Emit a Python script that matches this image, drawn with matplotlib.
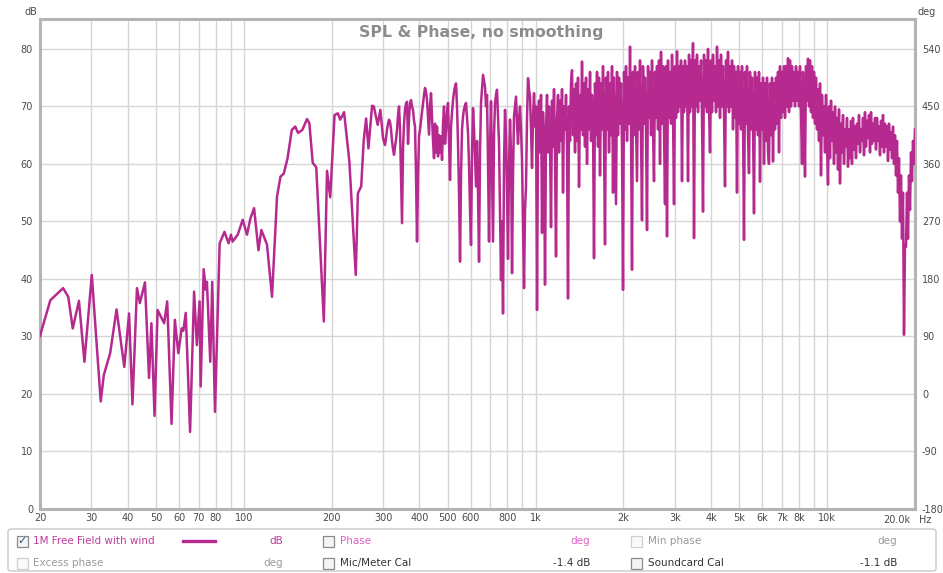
import numpy as np
import matplotlib
matplotlib.use('Agg')
import matplotlib.pyplot as plt
from matplotlib.patches import Rectangle, FancyBboxPatch
from matplotlib.lines import Line2D

# ---------------- data ----------------
# sparse part: 20 Hz .. ~295 Hz
low_freq = [20, 21.7, 24.0, 25.0, 25.9, 27.2, 28.4, 30.1, 32.3, 33.1, 34.8, 36.6, 38.9, 40.4,
            41.5, 43.0, 44.0, 45.8, 47.3, 48.2, 49.4, 50.6, 53.3, 54.6, 56.5, 58.0, 59.6, 61.2,
            62.0, 63.2, 65.4, 67.5, 69.0, 70.5, 71.1, 72.8, 74.1, 74.7, 76.7, 77.9, 79.6, 82.6,
            85.8, 88.6, 90.3, 91.5, 95.3, 99.1, 102.5, 105.4, 108.4, 112.2, 114.8, 118.9, 120,
            124.9, 129.9, 133.5, 137, 141.2, 146, 150, 153.4, 158.6, 164.6, 167.7, 172.2, 177.1,
            188, 192.8, 197.7, 204.6, 210, 214, 220.6, 227.9, 230, 241.9, 246, 252.5, 257.7,
            262.5, 267.3, 275.2, 279, 287.6, 293.7]
low_db = [30.1, 36.3, 38.4, 36.9, 31.4, 36.2, 25.6, 40.7, 18.7, 23.3, 27.1, 34.7, 24.7, 34.0,
          18.2, 38.4, 35.8, 39.4, 22.8, 32.3, 16.2, 34.6, 32.3, 36.1, 14.8, 32.9, 27.1, 31.4,
          31.0, 34.1, 13.4, 37.8, 28.5, 36.1, 21.3, 41.7, 38.1, 39.5, 25.6, 39.5, 16.9, 46.2,
          48.2, 46.2, 47.7, 46.5, 47.7, 50.3, 47.7, 50.6, 52.3, 45.0, 48.5, 46.5, 46.0,
          36.9, 54.3, 57.8, 58.3, 61.0, 65.9, 66.5, 65.4, 65.9, 67.8, 67.1, 60.2, 59.4,
          32.6, 58.8, 54.2, 68.5, 68.8, 67.7, 69.0, 62.4, 60.4, 40.7, 54.9, 56.1, 64.2,
          67.9, 62.7, 70.1, 70.0, 66.8, 69.4]

# dense part: 300 Hz .. 20 kHz on the log-spaced measurement grid
dense_f_start = 300
dense_f_end = 20000
dense_db = [
    # 300 Hz .. 1 kHz
    64.5, 63.8, 63.3, 64.5, 66, 67, 67.7, 67.3, 66, 64,
    62.5, 61.6, 63, 64.2, 66, 68.5, 70, 66, 58, 49.7,
    62.7, 67, 69.5, 70.5, 70.8, 63.5, 68, 70.5, 71.1, 70,
    69.4, 67.5, 66.5, 58, 46.5, 58, 64.8, 66, 67.5, 68.9,
    70.5, 72, 73.2, 72.5, 71.1, 68, 65.1, 70, 72.3, 68,
    64, 61, 67, 62, 66.5, 61.3, 65, 62, 64.8, 60.7,
    67, 70, 63.5, 66, 69, 70.6, 64, 57.2, 66.5, 69,
    71.1, 72.5, 73.5, 74, 70, 63.5, 55, 43, 58, 66,
    68.3, 69.5, 70.2, 70.6, 68, 65.4, 60, 52, 45.9, 62,
    69.7, 66, 61, 56.1, 64, 55, 43, 62, 70.6, 73,
    75.5, 74.5, 73.4, 70, 72, 60, 46.5, 63, 70.9, 58,
    46.5, 65, 70.6, 72, 72.9, 68, 63.5, 52, 39.8, 50,
    34.0, 60, 69.4, 65, 55, 43.5, 60, 67.7, 62, 41,
    58, 68.3, 70, 71.7, 67, 63.5, 68, 70, 66, 60.7,
    50, 38.4, 52, 56.1, 68, 74.9, 73, 71.7, 66, 59.3,
    68, 72.3, 66.5,
    # 1 kHz .. 20 kHz
    70, 34.6, 66, 71, 62, 72, 48, 69, 63, 39,
    66, 72, 62, 70, 64, 49, 71, 63, 73, 61,
    43.9, 68, 72, 62, 71, 64, 73, 55, 70, 66,
    72, 63, 36.6, 70, 64, 74, 76.3, 65, 73, 62,
    74, 64, 75, 56, 72, 66, 77.8, 65, 74, 63,
    75, 60, 73, 66, 76, 64, 72, 67, 43.6, 74,
    65, 76, 63, 75, 58, 74, 66, 77, 64, 46,
    75, 66, 76, 62, 74, 65, 77, 55, 75, 64,
    53, 76, 65, 75, 67, 74, 63, 38.1, 76, 66,
    77, 64, 75, 67, 80.4, 66, 41.6, 76, 65, 77,
    67, 57, 76, 66, 78, 65, 50.2, 77, 67, 75,
    66, 48.5, 77, 68, 76, 65, 78, 66, 57, 76,
    68, 77, 66, 78, 60, 79.5, 67, 77, 66, 53,
    77, 47.4, 78, 68, 76, 67, 79, 69, 53, 77,
    68, 79.6, 69, 77, 70, 78, 57, 77, 69, 78,
    70, 77, 57, 79, 69, 78, 70, 81, 47.1, 78,
    70, 79, 69, 77, 71, 78, 68, 51.7, 79, 70,
    78, 69, 80, 70, 62, 78, 69, 79, 71, 77,
    69, 80.4, 70, 78, 68, 79, 70, 77, 69, 56.1,
    78, 70, 79.5, 69, 77, 70, 78, 66, 77, 68,
    76, 55, 77, 67, 76, 66, 77, 68, 46.8, 76,
    67, 77, 65, 58.4, 76, 66, 75, 67, 51.4, 76,
    66, 75, 65, 76, 56.9, 74, 66, 75, 60, 74,
    64, 75, 62, 60, 74, 65, 75, 60.4, 74, 66,
    75, 67, 76, 62, 77, 68, 76, 69, 77, 68,
    77, 70, 78.4, 69, 78, 70, 77, 71, 76, 70,
    77, 71, 76, 70, 77, 69, 60, 76, 70, 57.8,
    77, 71, 78.3, 70, 78, 69, 77, 68, 76, 67,
    75, 66, 73, 64, 74, 58, 72, 65, 70, 62,
    72, 63, 56.4, 70, 61, 71, 64, 69, 60, 70,
    62, 68, 59, 69.5, 56.6, 67, 62, 68.5, 60, 66,
    63, 68, 59.5, 66, 61, 67.5, 60, 68, 62.5, 66.5,
    61, 67, 63.5, 68.5, 62, 66, 64, 68, 61.5, 69,
    63, 67.5, 64.5, 68.5, 62, 69, 63.5, 67, 64, 68,
    62.5, 68, 64, 66.5, 61.5, 67.5, 63, 68.5, 62, 67,
    63, 66.5, 60.5, 67, 62.5, 65.5, 61, 66.5, 60, 65,
    58, 64, 55, 61, 50, 58, 47, 55, 30.3, 46,
    45.6, 55, 47, 58, 52, 62, 57, 64, 60, 66,
]

grid_freqs = [20, 30, 40, 50, 60, 70, 80, 90, 100, 200, 300, 400, 500, 600, 700, 800, 900,
              1000, 2000, 3000, 4000, 5000, 6000, 7000, 8000, 9000, 10000, 20000]
grid_labels = ['20', '30', '40', '50', '60', '70', '80', '', '100', '200', '300', '400', '500',
               '600', '', '800', '', '1k', '2k', '3k', '4k', '5k', '6k', '7k', '8k', '', '10k', '']
db_ticks = [0, 10, 20, 30, 40, 50, 60, 70, 80]
deg_ticks = [-180, -90, 0, 90, 180, 270, 360, 450, 540]

title = 'SPL & Phase, no smoothing'
trace_name = '1M Free Field with wind'

# ---------------- figure ----------------
W, H = 943, 573
fig = plt.figure(figsize=(W / 100, H / 100), dpi=100)
fig.patch.set_facecolor('white')

def P(x, y):
    return (x / W, 1 - y / H)

ax_l, ax_r, ax_t, ax_b = 40, 915, 19, 509
ax = fig.add_axes([ax_l / W, 1 - ax_b / H, (ax_r - ax_l) / W, (ax_b - ax_t) / H])

LINE = '#b62a8f'
TICK = '#4a4a4a'

freq = np.concatenate([np.array(low_freq, float),
                       np.geomspace(dense_f_start, dense_f_end, len(dense_db))])
spl = np.concatenate([np.array(low_db, float), np.array(dense_db, float)])

ax.set_xscale('log')
ax.set_xlim(20, 20000)
ax.set_ylim(0, 85.2)
ax.plot(freq, spl, color=LINE, lw=1.8, zorder=3)

ax.set_xticks(grid_freqs)
ax.set_xticklabels(grid_labels)
ax.xaxis.set_minor_locator(matplotlib.ticker.NullLocator())
ax.set_yticks(db_ticks)
ax.set_yticklabels([str(v) for v in db_ticks])
ax.grid(True, color='#d6d6d6', lw=1.0, zorder=0)
ax.tick_params(axis='both', length=0, labelsize=7, labelcolor=TICK, pad=3)
ax.tick_params(axis='y', pad=5)
for s in ax.spines.values():
    s.set_color('#b4b4b4')
    s.set_linewidth(2.2)

ax2 = ax.twinx()
ax2.set_ylim(-180, -180 + 85.2 * 9)
ax2.set_yticks(deg_ticks)
ax2.set_yticklabels([str(v) for v in deg_ticks])
ax2.tick_params(axis='y', length=0, labelsize=7, labelcolor=TICK, pad=5)
for s in ax2.spines.values():
    s.set_visible(False)

# final frequency label with unit
ax.annotate('20.0k', xy=(20000, 0), xycoords='data', xytext=(-3, -4), textcoords='offset points',
            ha='right', va='top', fontsize=7, color=TICK)
ax.annotate('Hz', xy=(20000, 0), xycoords='data', xytext=(3, -4), textcoords='offset points',
            ha='left', va='top', fontsize=7, color=TICK)

fig.text(*P(37, 12), 'dB', ha='right', va='center', fontsize=7, color=TICK)
fig.text(*P(918, 12), 'deg', ha='left', va='center', fontsize=7, color=TICK)

fig.text(*P(481, 32), title, ha='center', va='center', fontsize=11.3, fontweight='bold',
         color='#8c8c8c')

# ---------------- legend panel ----------------
panel = FancyBboxPatch(P(8, 571), (928) / W, (42) / H, boxstyle='round,pad=0,rounding_size=0.004',
                       transform=fig.transFigure, facecolor='white', edgecolor='#c8c8c8', lw=1.0)
fig.patches.append(panel)

def checkbox(x, y, checked=False, enabled=True):
    size = 11
    x0, y0 = P(x, y + size / 2)
    r = Rectangle((x0, y0), size / W, size / H, transform=fig.transFigure,
                  facecolor='#f4f4f4' if enabled else '#fafafa',
                  edgecolor='#8a8a8a' if enabled else '#cfcfcf', lw=0.9)
    fig.patches.append(r)
    if checked:
        fig.text(*P(x + size / 2, y), '\u2713', ha='center', va='center', fontsize=8,
                 color='#2b4f8f', fontweight='bold')

FS = 7.5
r1, r2 = 541, 563
PINK = '#c0399c'
PHASE = '#e35fc8'
GREY = '#9a9a9a'
DARK = '#333333'

checkbox(17, r1, checked=True)
fig.text(*P(33, r1), trace_name, ha='left', va='center', fontsize=FS, color=PINK)
fig.lines.append(Line2D([183 / W, 215 / W], [1 - r1 / H, 1 - r1 / H], transform=fig.transFigure,
                        color=LINE, lw=2.4))
fig.text(*P(276, r1), 'dB', ha='center', va='center', fontsize=FS, color=PINK)
checkbox(323, r1)
fig.text(*P(340, r1), 'Phase', ha='left', va='center', fontsize=FS, color=PHASE)
fig.text(*P(590, r1), 'deg', ha='right', va='center', fontsize=FS, color=PHASE)
checkbox(631, r1, enabled=False)
fig.text(*P(648, r1), 'Min phase', ha='left', va='center', fontsize=FS, color=GREY)
fig.text(*P(897, r1), 'deg', ha='right', va='center', fontsize=FS, color=GREY)

checkbox(17, r2, enabled=False)
fig.text(*P(33, r2), 'Excess phase', ha='left', va='center', fontsize=FS, color=GREY)
fig.text(*P(283, r2), 'deg', ha='right', va='center', fontsize=FS, color=GREY)
checkbox(323, r2)
fig.text(*P(340, r2), 'Mic/Meter Cal', ha='left', va='center', fontsize=FS, color=DARK)
fig.text(*P(590, r2), '-1.4 dB', ha='right', va='center', fontsize=FS, color=DARK)
checkbox(631, r2)
fig.text(*P(648, r2), 'Soundcard Cal', ha='left', va='center', fontsize=FS, color=DARK)
fig.text(*P(897, r2), '-1.1 dB', ha='right', va='center', fontsize=FS, color=DARK)

fig.savefig('out.png', dpi=100, facecolor='white')
